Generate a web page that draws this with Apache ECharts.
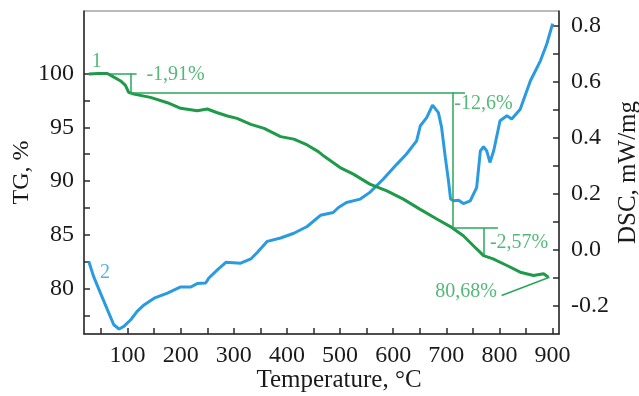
<!DOCTYPE html>
<html>
<head>
<meta charset="utf-8">
<script src="https://cdn.jsdelivr.net/npm/echarts@6/dist/echarts.min.js"></script>
<style>
html,body{margin:0;padding:0;background:#fff;}
#chart{width:639px;height:396px;}
</style>
</head>
<body>
<div id="chart"></div>
<script>
// TG curve (temperature °C, mass %)
const tgTemp = [27, 45, 62, 71, 87, 96, 102, 112, 143, 175, 200, 231, 250, 269, 288, 306, 332, 357, 388, 413, 438, 459, 470, 500, 525, 556, 588, 619, 650, 682, 710, 732, 757, 770, 788, 814, 839, 864, 883, 892];
const tgValue = [99.95, 100.0, 100.0, 99.75, 99.3, 98.9, 98.24, 98.08, 97.78, 97.28, 96.76, 96.54, 96.7, 96.35, 96.05, 95.83, 95.27, 94.9, 94.13, 93.9, 93.36, 92.74, 92.3, 91.26, 90.65, 89.72, 89.1, 88.33, 87.4, 86.48, 85.7, 84.93, 83.7, 83.08, 82.78, 82.16, 81.54, 81.23, 81.39, 81.07];

// DSC curve (temperature °C, mW/mg)
const dscTemp = [27, 36, 49, 62, 74, 84, 93, 106, 118, 131, 150, 175, 200, 219, 231, 247, 253, 269, 285, 313, 332, 344, 363, 388, 413, 438, 463, 487, 497, 512, 538, 556, 581, 607, 625, 644, 651, 663, 674, 685, 691, 698, 704, 708, 713, 723, 732, 745, 757, 764, 770, 776, 782, 789, 801, 814, 823, 839, 858, 877, 889, 900];
const dscValue = [-0.043, -0.096, -0.156, -0.215, -0.269, -0.284, -0.275, -0.251, -0.221, -0.198, -0.174, -0.156, -0.134, -0.134, -0.122, -0.12, -0.102, -0.073, -0.046, -0.049, -0.034, -0.011, 0.029, 0.041, 0.058, 0.082, 0.122, 0.132, 0.15, 0.168, 0.18, 0.204, 0.251, 0.305, 0.341, 0.388, 0.442, 0.471, 0.516, 0.489, 0.436, 0.329, 0.245, 0.18, 0.174, 0.176, 0.164, 0.174, 0.221, 0.352, 0.367, 0.352, 0.311, 0.352, 0.46, 0.478, 0.466, 0.501, 0.602, 0.674, 0.734, 0.807];

// Axis ticks and labels
const xTicks = [50,100,150,200,250,300,350,400,450,500,550,600,650,700,750,800,850,900];
const xLabels = [100,200,300,400,500,600,700,800,900];
const tgTicks = [77.5,80,82.5,85,87.5,90,92.5,95,97.5,100];
const tgLabels = [80,85,90,95,100];
const dscTicks = [-0.2,-0.1,0,0.1,0.2,0.3,0.4,0.5,0.6,0.7,0.8];
const dscLabels = [-0.2,0,0.2,0.4,0.6,0.8];

// Mass-loss annotation segments [[T1,TG1],[T2,TG2]]
const stepSegments = [
  [[67, 100], [117, 100]],
  [[105.3, 100], [105.3, 98.24]],
  [[105.3, 98.24], [735, 98.24]],
  [[711.5, 98.24], [711.5, 85.65]],
  [[711.5, 85.65], [797, 85.65]],
  [[769.7, 85.65], [769.7, 83.08]],
  [[804, 79.38], [894, 81.07]]
];
// Annotation texts [T, TG, text, side]
const tgNotes = [
  [42, 101.05, '1', 'inside'],
  [135.5, 99.84, '-1,91%', 'right'],
  [715, 97.2, '-12,6%', 'right'],
  [782, 84.24, '-2,57%', 'right'],
  [795, 79.7, '80,68%', 'left']
];
const dscNotes = [
  [57.5, -0.083, '2', 'inside']
];

const green = '#1e9a48';
const greenText = '#2aa658';
const blue = '#2a9be0';
const font = '"Liberation Serif","Times New Roman",serif';

const chart = echarts.init(document.getElementById('chart'), null, {renderer: 'canvas'});

const axisLineStyle = {color: '#2b2b2b', width: 1.5};

chart.setOption({
  animation: false,
  backgroundColor: '#ffffff',
  grid: {left: 84, right: 80, top: 11, bottom: 62, containLabel: false, outerBoundsMode: 'none',
    show: true, borderColor: '#777', borderWidth: 1},
  xAxis: {
    type: 'value', min: 18, max: 912,
    name: 'Temperature, °C', nameLocation: 'middle', nameGap: 34, nameMoveOverlap: false,
    nameTextStyle: {fontFamily: font, fontSize: 25, color: '#1a1a1a', padding: [0, 0, 0, 35]},
    axisLine: {show: true, onZero: false, lineStyle: axisLineStyle},
    axisTick: {show: true, inside: true, length: 6, customValues: xTicks, lineStyle: axisLineStyle},
    axisLabel: {customValues: xLabels, fontFamily: font, fontSize: 24, color: '#1a1a1a', margin: 10},
    splitLine: {show: false}
  },
  yAxis: [
    {
      type: 'value', min: 75.8, max: 105.8, position: 'left',
      name: 'TG, %', nameLocation: 'middle', nameGap: 50, nameRotate: 90, nameMoveOverlap: false,
      nameTextStyle: {fontFamily: font, fontSize: 24, color: '#1a1a1a'},
      axisLine: {show: true, onZero: false, lineStyle: axisLineStyle},
      axisTick: {show: true, inside: true, length: 6, customValues: tgTicks, lineStyle: axisLineStyle},
      axisLabel: {customValues: tgLabels, fontFamily: font, fontSize: 24, color: '#1a1a1a', margin: 10},
      splitLine: {show: false}
    },
    {
      type: 'value', min: -0.302, max: 0.852, position: 'right',
      name: 'DSC, mW/mg', nameLocation: 'middle', nameGap: 57, nameRotate: 90, nameMoveOverlap: false,
      nameTextStyle: {fontFamily: font, fontSize: 25, color: '#1a1a1a'},
      axisLine: {show: true, onZero: false, lineStyle: axisLineStyle},
      axisTick: {show: true, inside: true, length: 6, customValues: dscTicks, lineStyle: axisLineStyle},
      axisLabel: {customValues: dscLabels, fontFamily: font, fontSize: 24, color: '#1a1a1a', margin: 12,
        formatter: v => v.toFixed(1)},
      splitLine: {show: false}
    }
  ],
  series: [
    {
      type: 'line', name: 'TG', yAxisIndex: 0, showSymbol: false, symbol: 'none',
      data: tgTemp.map((t, i) => [t, tgValue[i]]),
      lineStyle: {color: green, width: 3}, itemStyle: {color: green},
      markLine: {
        silent: true, symbol: ['none', 'none'], animation: false,
        label: {show: false},
        lineStyle: {color: greenText, width: 1.5, type: 'solid'},
        emphasis: {disabled: true},
        data: stepSegments.map(s => [{coord: s[0]}, {coord: s[1]}])
      },
      z: 3
    },
    {
      type: 'line', name: 'DSC', yAxisIndex: 1, showSymbol: false, symbol: 'none',
      data: dscTemp.map((t, i) => [t, dscValue[i]]),
      lineStyle: {color: blue, width: 3}, itemStyle: {color: blue},
      z: 2
    },
    {
      type: 'scatter', yAxisIndex: 0, symbolSize: 0, silent: true,
      data: tgNotes.map(n => ({
        value: [n[0], n[1]],
        label: {show: true, formatter: n[2], position: n[3], distance: 0,
          fontFamily: font, fontSize: 20, color: greenText}
      }))
    },
    {
      type: 'scatter', yAxisIndex: 1, symbolSize: 0, silent: true,
      data: dscNotes.map(n => ({
        value: [n[0], n[1]],
        label: {show: true, formatter: n[2], position: n[3], distance: 0,
          fontFamily: font, fontSize: 20, color: blue}
      }))
    }
  ]
});
</script>
</body>
</html>
